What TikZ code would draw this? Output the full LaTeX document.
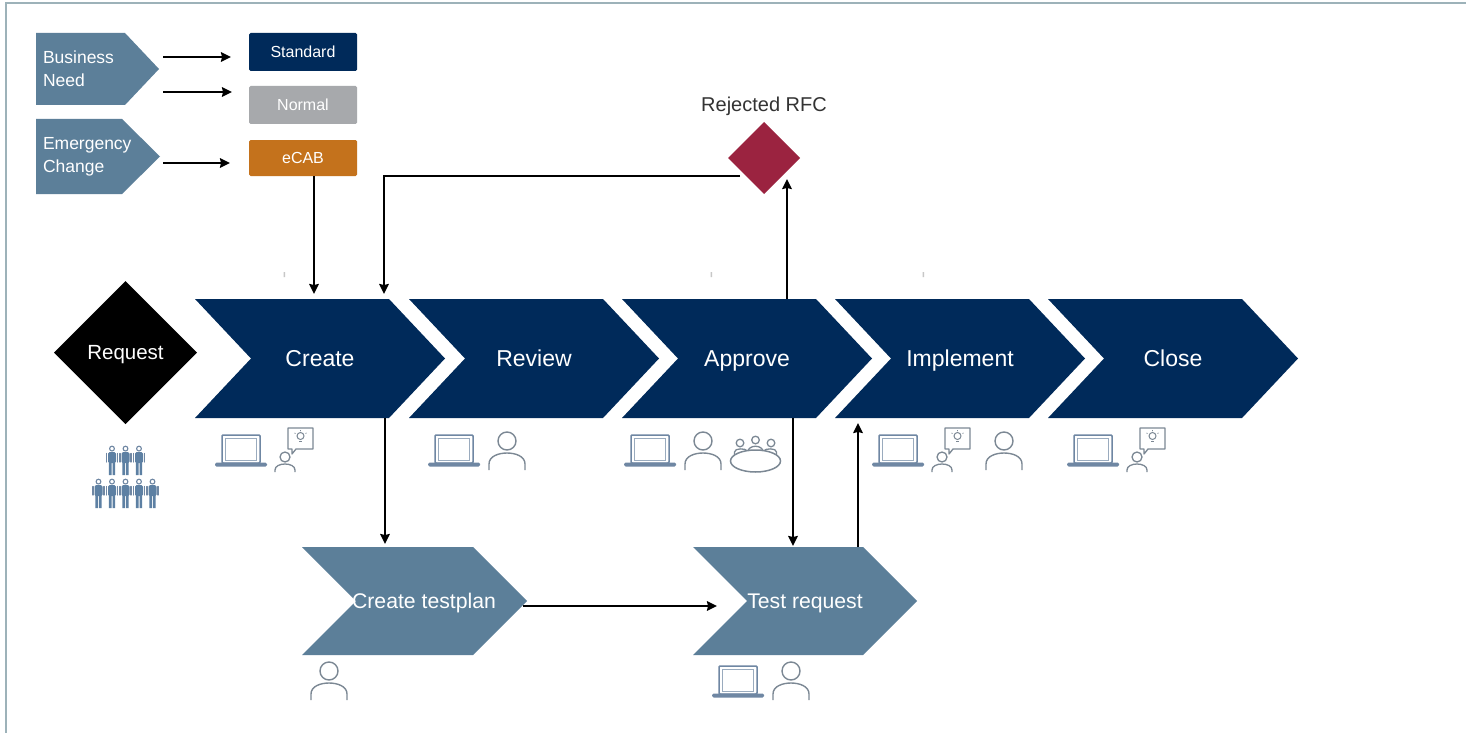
\documentclass[tikz,border=0pt]{standalone}
\usepackage{fontspec}
\setmainfont{Liberation Sans}
\usetikzlibrary{arrows.meta,shapes.geometric,calc}
\definecolor{navy}{HTML}{002A5A}
\definecolor{steel}{HTML}{5C7F99}
\definecolor{midgray}{HTML}{A7A9AC}
\definecolor{amber}{HTML}{C4721C}
\definecolor{crimson}{HTML}{9B2340}
\definecolor{framec}{HTML}{9DB2B9}
\definecolor{iconblue}{HTML}{6F87A3}
\definecolor{icongray}{HTML}{7C8894}
\definecolor{figdark}{HTML}{35608C}
\newcommand{\chevshape}[9]{% name,x,y,w,h,d,color,font size,text
  \fill[#7] (#2,#3) -- ({#2+#4-#6},#3) -- ({#2+#4},{#3+#5/2}) -- ({#2+#4-#6},{#3+#5}) -- (#2,{#3+#5}) -- ({#2+#6},{#3+#5/2}) -- cycle;
  \node[holder,minimum width=#4,minimum height=#5,font=\fontsize{#8}{26}\selectfont,text height=#8*0.72pt,text depth=0pt] (#1) at ({#2+#4/2},{#3+#5/2}) {#9};}
\newcommand{\pentshape}[7]{% name,x,y,w,h,shoulder,text
  \fill[steel] (#2,#3) -- (#6,#3) -- ({#2+#4},{#3+#5/2}) -- (#6,{#3+#5}) -- (#2,{#3+#5}) -- cycle;
  \node[holder,minimum width=#4,minimum height=#5,font=\fontsize{17.5}{23}\selectfont,align=left,text width={#4-14}] (#1) at ({#2+#4/2},{#3+#5/2}) {#7};}
\tikzset{
  x=1pt,y=-1pt,
  holder/.style={inner sep=0pt,outer sep=0pt,text=white},
  tagbox/.style={inner sep=0pt,outer sep=0pt,minimum width=108,text=white,font=\fontsize{16}{19}\selectfont,text height=11.5pt,text depth=0pt,rounded corners=1.5pt},
  arrow/.style={draw=black,line width=1.9pt,-{Stealth[length=10pt,width=9.5pt,inset=1pt]}},
  pics/laptop/.style={code={
    \draw[iconblue,line width=1.5pt,rounded corners=1pt] (7,0) rectangle (45,28);
    \draw[iconblue!70,line width=1pt] (10.5,3) rectangle (41.5,25);
    \fill[iconblue,rounded corners=1.5pt] (0,27.5) rectangle (52,31.5);
  }},
  pics/personicon/.style={code={
    \draw[icongray,line width=1.4pt] (0,0) circle (9);
    \draw[icongray,line width=1.4pt] (-18,29) -- (-18,23) .. controls (-18,15) and (-8,12) .. (0,12) .. controls (8,12) and (18,15) .. (18,23) -- (18,29);
  }},
  pics/advisor/.style={code={
    \draw[icongray,line width=1.3pt] (0,0) circle (5);
    \draw[icongray,line width=1.3pt] (-10,15) -- (-10,13) .. controls (-10,9) and (-5,7) .. (0,7) .. controls (5,7) and (10,9) .. (10,13) -- (10,15);
    \draw[icongray,line width=1.3pt,line join=round] (3,-29) -- (28,-29) -- (28,-8) -- (11,-8) -- (7,-3) -- (7,-8) -- (3,-8) -- cycle;
    \draw[icongray,line width=1pt] (15.5,-21) circle (3.5);
    \draw[icongray,line width=1.2pt] (14,-15.5) -- (17,-15.5);
    \draw[icongray,line width=.7pt] (15.5,-27) -- (15.5,-26) (9.5,-24) -- (10.5,-23.5) (21.5,-24) -- (20.5,-23.5);
  }},
  pics/tableicon/.style={code={
    \draw[icongray,line width=1.3pt] (-15.5,-18) circle (3.8) (0,-21) circle (3.8) (15.5,-18) circle (3.8);
    \draw[icongray,line width=1.3pt] (-21,-3) -- (-21,-9) .. controls (-21,-13) and (-10,-13) .. (-8,-10);
    \draw[icongray,line width=1.3pt] (21,-3) -- (21,-9) .. controls (21,-13) and (10,-13) .. (8,-10);
    \draw[icongray,line width=1.3pt] (-8,-8) .. controls (-8,-17) and (8,-17) .. (8,-8);
    \draw[icongray,line width=1.5pt,fill=white] (0,0) ellipse (25 and 11);
  }},
  pics/figureicon/.style={code={
    \draw[iconblue,line width=1.1pt] (0,2.6) circle (2.4);
    \fill[figdark!80!white,rounded corners=1.5pt] (-4,6) rectangle (4,17);
    \draw[iconblue,line width=1.2pt,line cap=round] (-5.5,7.5) -- (-5.5,16) (5.5,7.5) -- (5.5,16);
    \fill[figdark!80!white] (-3.2,16) rectangle (-.5,29) (.5,16) rectangle (3.2,29);
  }},
}
\begin{document}
\begin{tikzpicture}
\useasboundingbox (0,0) rectangle (1466,733);
\fill[white] (0,0) rectangle (1466,733);
\draw[framec,line width=1.2pt] (6,733) -- (6,3) -- (1466,3);
% faint marks
\fill[black!22] (283.5,272) rectangle (285,277) (710.5,272) rectangle (712,277) (922.5,272) rectangle (924,277);

% top-left inputs
\pentshape{biz}{36}{33}{123}{72}{125}{Business\\Need}
\pentshape{emer}{36}{119}{124}{75}{122}{Emergency\\Change}
\node[tagbox,fill=navy,minimum height=38] (standard) at (303,52) {Standard};
\node[tagbox,fill=midgray,minimum height=38] (normal) at (303,105) {Normal};
\node[tagbox,fill=amber,minimum height=36] (ecab) at (303,158) {eCAB};

% main row
\node[diamond,fill=black,minimum width=143,minimum height=143,inner sep=0pt,outer sep=0pt,text=white,font=\fontsize{20.5}{24}\selectfont,text height=14.7pt,text depth=0pt] (request) at (125.5,352.5) {Request};
\chevshape{create}{195}{299}{250}{119}{56}{navy}{23}{Create}
\chevshape{review}{409}{299}{250}{119}{56}{navy}{23}{Review}
\chevshape{approve}{622}{299}{250}{119}{56}{navy}{23}{Approve}
\chevshape{implement}{835}{299}{250}{119}{56}{navy}{23}{Implement}
\chevshape{close}{1048}{299}{250}{119}{56}{navy}{23}{Close}

% lower row
\chevshape{testplan}{302}{547}{225}{108}{54}{steel}{21.2}{\hspace*{19pt}Create testplan}
\chevshape{testreq}{693}{547}{224}{108}{54}{steel}{21.2}{Test request}

% rejected
\node[diamond,fill=crimson,minimum width=72,minimum height=72,inner sep=0pt,outer sep=0pt] (rej) at (764,158) {};
\node[text=black!80,font=\fontsize{20}{23}\selectfont,text height=14.4pt,text depth=0pt,inner sep=0pt] (rejlabel) at (764,104) {Rejected RFC};

% connectors
\draw[arrow] ([shift={(4,-12)}]biz.east) -- ([shift={(-18,5)}]standard.west);
\draw[arrow] ([shift={(4,23)}]biz.east) -- ([shift={(-17,-13)}]normal.west);
\draw[arrow] ([shift={(3,6.5)}]emer.east) -- ([shift={(-19,5)}]ecab.west);
\draw[arrow] ([shift={(11,0)}]ecab.south) -- ([shift={(-6,-5)}]create.north);
\draw[arrow] ([shift={(-24,18)}]rej.center) -| ([shift={(64,-5)}]create.north);
\draw[arrow] ([shift={(40,0)}]approve.north) -- ([shift={(23,21)}]rej.center);
\draw[arrow] ([shift={(65,0)}]create.south) -- ([shift={(-29.5,-3)}]testplan.north);
\draw[arrow] ([shift={(46,0)}]approve.south) -- ([shift={(-12,-1)}]testreq.north);
\draw[arrow] ([shift={(53,0)}]testreq.north) -- ([shift={(-102,5)}]implement.south);
\draw[arrow] ([shift={(-4,5)}]testplan.east) -- ([shift={(24,5)}]testreq.west);

% icons
\pic at (215,435) {laptop};
\pic at (285,457) {advisor};
\pic at (428,435) {laptop};
\pic at (507,441) {personicon};
\pic at (624,435) {laptop};
\pic at (703,441) {personicon};
\pic at (755.5,461) {tableicon};
\pic at (872,435) {laptop};
\pic at (942,457) {advisor};
\pic at (1004,441) {personicon};
\pic at (1067,435) {laptop};
\pic at (1137,457) {advisor};
\pic at (329,671) {personicon};
\pic at (712,666) {laptop};
\pic at (791,671) {personicon};
\foreach \fx in {112,125.5,139} {\pic at (\fx,446) {figureicon};}
\foreach \fx in {98.5,112,125.5,139,152.5} {\pic at (\fx,479) {figureicon};}
\end{tikzpicture}
\end{document}
